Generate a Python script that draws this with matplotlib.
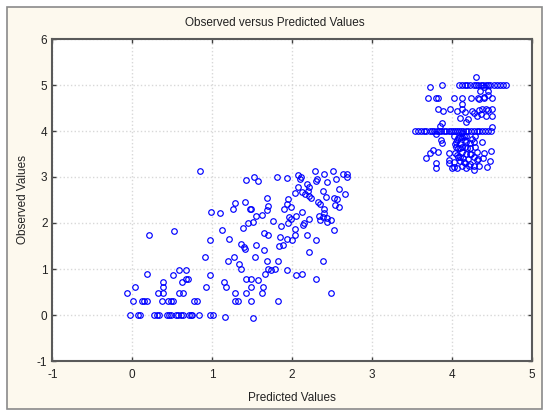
import matplotlib.pyplot as plt
from matplotlib.patches import Rectangle

plt.rcParams['font.family'] = ['Liberation Sans', 'DejaVu Sans']
plt.rcParams['axes.unicode_minus'] = False

TITLE = "Observed versus Predicted Values"
X_LABEL = "Predicted Values"
Y_LABEL = "Observed Values"
X_TICKS = [-1, 0, 1, 2, 3, 4, 5]
Y_TICKS = [-1, 0, 1, 2, 3, 4, 5, 6]

# lower cluster, observed == 0
zero_row_pred = [-0.03, 0.07, 0.10, 0.27, 0.31, 0.33, 0.44, 0.46, 0.48, 0.55,
                 0.57, 0.61, 0.63, 0.71, 0.73, 0.75, 0.84, 0.97, 1.01]
zero_row_obs = [0.0] * len(zero_row_pred)

# lower cluster, observed ~ 0.3
low_row_pred = [0.01, 0.12, 0.15, 0.19, 0.37, 0.45, 0.48, 0.51, 0.77, 0.81,
                1.28, 1.32, 1.48, 1.82]
low_row_obs = [0.30] * len(low_row_pred)

# lower cluster, the rest (predicted, observed)
low_points = [
    (1.16, -0.04), (1.51, -0.07),
    (-0.07, 0.48), (0.03, 0.61), (0.19, 0.90), (0.21, 1.73), (0.32, 0.48),
    (0.38, 0.72), (0.38, 0.61), (0.39, 0.48), (0.51, 0.86), (0.52, 1.83),
    (0.58, 0.97), (0.58, 0.48), (0.62, 0.72), (0.64, 0.48), (0.67, 0.97),
    (0.67, 0.78), (0.70, 0.78), (0.92, 0.61), (0.91, 1.26), (0.97, 0.86),
    (0.97, 1.63), (0.85, 3.12), (0.99, 2.25), (1.10, 2.21), (1.12, 1.84),
    (1.15, 0.72), (1.17, 0.61), (1.20, 1.18), (1.21, 1.66), (1.26, 2.31),
    (1.28, 2.44), (1.27, 1.26), (1.28, 0.48), (1.34, 1.10), (1.36, 1.01),
    (1.36, 1.55), (1.40, 1.48), (1.41, 1.44), (1.39, 1.89), (1.41, 2.45),
    (1.42, 2.94), (1.42, 0.79), (1.42, 0.48), (1.45, 2.01), (1.47, 2.31),
    (1.48, 2.30), (1.48, 0.79), (1.48, 0.61), (1.51, 2.02), (1.52, 2.99),
    (1.54, 1.26), (1.55, 1.53), (1.55, 2.15), (1.57, 2.92), (1.57, 0.77),
    (1.62, 2.18), (1.62, 0.48), (1.64, 0.61), (1.65, 1.41), (1.65, 1.79),
    (1.66, 0.90), (1.68, 2.28), (1.69, 2.55), (1.69, 1.18), (1.70, 2.37),
    (1.70, 1.73), (1.70, 1.01), (1.73, 0.97), (1.76, 2.04), (1.79, 1.01),
    (1.81, 3.00), (1.82, 1.18), (1.83, 1.49), (1.85, 1.69), (1.86, 1.93),
    (1.88, 1.53), (1.90, 2.30), (1.93, 2.42), (1.94, 2.97), (1.94, 0.97),
    (1.94, 1.65), (1.95, 2.53), (1.95, 2.00), (1.96, 2.13), (1.99, 2.08),
    (1.99, 2.35), (2.00, 1.63), (2.03, 1.87), (2.04, 2.66), (2.04, 1.73),
    (2.05, 0.86), (2.05, 2.15), (2.07, 3.04), (2.07, 2.78), (2.10, 2.95),
    (2.11, 3.00), (2.12, 0.90), (2.12, 2.67), (2.12, 2.23), (2.14, 1.95),
    (2.15, 2.01), (2.16, 2.64), (2.18, 2.85), (2.19, 1.73), (2.20, 2.69),
    (2.21, 2.59), (2.21, 1.38), (2.21, 2.08), (2.21, 2.78), (2.23, 2.54),
    (2.29, 3.12), (2.30, 2.92), (2.30, 1.64), (2.30, 0.79), (2.31, 2.96),
    (2.32, 2.45), (2.34, 2.15), (2.35, 2.42), (2.35, 2.06), (2.38, 2.69),
    (2.38, 2.12), (2.39, 1.18), (2.40, 3.07), (2.40, 2.31), (2.40, 2.21),
    (2.42, 2.57), (2.43, 2.11), (2.44, 2.02), (2.44, 2.89), (2.48, 2.06),
    (2.48, 0.48), (2.51, 3.12), (2.52, 2.55), (2.52, 1.85), (2.54, 2.40),
    (2.55, 2.96), (2.56, 2.52), (2.58, 2.74), (2.59, 2.34), (2.64, 3.06),
    (2.66, 2.63), (2.68, 3.00), (2.69, 3.07),
]

# upper cluster, observed == 5
five_row_pred = [3.87, 4.09, 4.13, 4.16, 4.19, 4.23, 4.27, 4.30, 4.33, 4.36,
                 4.39, 4.42, 4.45, 4.48, 4.52, 4.56, 4.60, 4.64, 4.68]
five_row_obs = [5.0] * len(five_row_pred)

# upper cluster, observed == 4
four_row_pred = [3.54, 3.58, 3.61, 3.65, 3.68, 3.72, 3.75, 3.78, 3.81, 3.84,
                 3.86, 3.90, 3.93, 3.96, 3.99, 4.01, 4.04, 4.06, 4.09, 4.11,
                 4.14, 4.17, 4.20, 4.24, 4.27, 4.31, 4.34, 4.37, 4.41, 4.45,
                 4.49]
four_row_obs = [4.0] * len(four_row_pred)

# upper cluster, the rest (predicted, observed)
high_points = [
    (4.30, 5.17), (3.72, 4.96), (4.35, 4.88), (4.45, 4.88), (4.40, 4.95),
    (3.70, 4.71), (3.80, 4.71), (3.82, 4.71), (4.02, 4.71), (4.12, 4.71),
    (4.24, 4.71), (4.32, 4.71), (4.34, 4.69), (4.40, 4.71), (4.50, 4.71),
    (4.40, 4.75), (4.45, 4.79),
    (3.82, 4.48), (3.89, 4.43), (3.98, 4.48), (4.06, 4.43), (4.12, 4.58),
    (4.13, 4.48), (4.16, 4.41), (4.25, 4.43), (4.27, 4.40), (4.34, 4.45),
    (4.38, 4.48), (4.42, 4.48), (4.45, 4.45), (4.50, 4.48), (4.31, 4.33),
    (4.36, 4.38), (4.42, 4.33), (4.50, 4.33), (4.10, 4.29), (4.18, 4.19),
    (4.20, 4.27), (3.87, 4.17), (3.85, 4.10), (4.50, 4.08), (3.80, 3.93),
    (3.86, 3.80), (3.87, 3.74), (3.68, 3.42), (3.73, 3.52), (3.76, 3.58),
    (3.83, 3.54), (3.80, 3.31), (3.80, 3.20), (3.96, 3.52), (3.96, 3.38),
    (3.96, 3.31), (4.38, 3.76), (4.40, 3.52), (4.39, 3.42), (4.49, 3.56),
    (4.48, 3.34), (4.34, 3.24), (4.27, 3.15), (4.44, 3.22), (4.33, 3.40),
    (4.03, 3.90), (4.07, 3.85), (4.13, 3.88), (4.18, 3.90), (4.25, 3.83),
    (4.05, 3.76), (4.10, 3.72), (4.16, 3.80), (4.22, 3.74), (4.05, 3.65),
    (4.10, 3.62), (4.16, 3.65), (4.23, 3.62), (4.04, 3.52), (4.12, 3.54),
    (4.17, 3.51), (4.24, 3.49), (4.07, 3.43), (4.14, 3.42), (4.20, 3.40),
    (4.27, 3.43), (4.02, 3.33), (4.10, 3.35), (4.16, 3.30), (4.23, 3.29),
    (4.00, 3.20), (4.06, 3.20), (4.17, 3.20), (4.13, 3.25), (4.31, 3.36),
    (4.29, 3.65), (4.27, 3.76), (4.31, 3.54), (4.12, 3.96), (4.08, 3.62),
    (4.12, 3.65), (4.19, 3.62), (4.23, 3.51), (4.06, 3.47), (4.10, 3.43),
    (4.15, 3.33), (4.21, 3.25), (4.27, 3.25), (4.04, 3.72), (4.06, 3.81),
    (4.10, 3.87), (4.15, 3.90), (4.17, 3.76), (4.29, 3.90), (4.02, 3.22),
]

fig = plt.figure(figsize=(5.5, 4.17), dpi=100)
fig.patch.set_facecolor('white')
fig.patches.append(Rectangle((7 / 550, 1 - 409 / 417), 535 / 550, 402 / 417,
                             transform=fig.transFigure, facecolor='#fdf9ee',
                             edgecolor='#8a8a8a', linewidth=1.2, zorder=-10))

ax = fig.add_axes([52.3 / 550, 1 - 361 / 417, 479.7 / 550, 322 / 417])
ax.set_facecolor('white')

marker = dict(linestyle='none', marker='o', ms=4.0, mfc='none',
              mec='#0000ff', mew=0.85)
ax.plot(zero_row_pred, zero_row_obs, **marker)
ax.plot(low_row_pred, low_row_obs, **marker)
ax.plot([p[0] for p in low_points], [p[1] for p in low_points], **marker)
ax.plot(five_row_pred, five_row_obs, **marker)
ax.plot(four_row_pred, four_row_obs, **marker)
ax.plot([p[0] for p in high_points], [p[1] for p in high_points], **marker)

ax.set_xlim(-1, 5)
ax.set_ylim(-1, 6)
ax.set_xticks(X_TICKS)
ax.set_yticks(Y_TICKS)
ax.grid(True, color='#d8d8d8', linestyle=':', linewidth=1.0)
ax.set_axisbelow(True)
ax.tick_params(direction='in', length=3, width=1, colors='#404040',
               labelcolor='#222222', labelsize=8.5, top=True, right=True)
ax.tick_params(axis='x', pad=6)
for side in ax.spines.values():
    side.set_color('#5a5a5a')
    side.set_linewidth(1.5)

ax.set_xlabel(X_LABEL, fontsize=8.5, color='#222222', labelpad=8)
ax.set_ylabel(Y_LABEL, fontsize=8.5, color='#222222', labelpad=6)
fig.text(275 / 550, 1 - 23 / 417, TITLE, ha='center', va='center',
         fontsize=8.5, color='#222222')

fig.savefig('out.png', dpi=100)
